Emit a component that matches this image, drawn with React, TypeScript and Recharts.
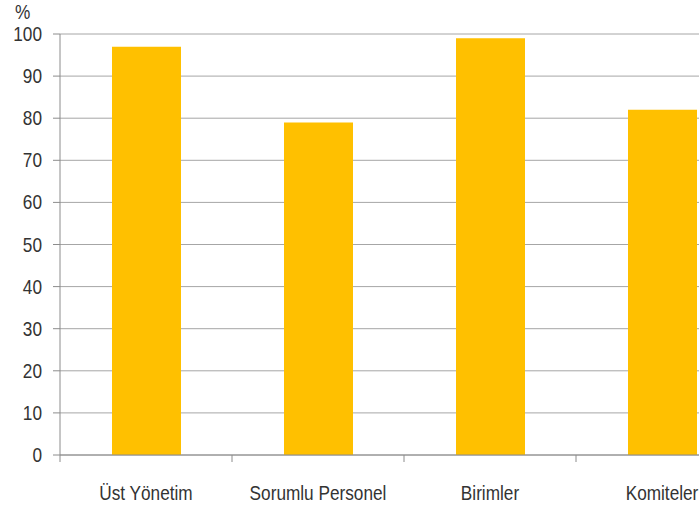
import { BarChart, Bar, XAxis, YAxis, CartesianGrid } from "recharts";

const categories = ["Üst Yönetim", "Sorumlu Personel", "Birimler", "Komiteler"];
const shares = [97, 79, 99, 82];
const yTicks = [0, 10, 20, 30, 40, 50, 60, 70, 80, 90, 100];

const data = categories.map((name, i) => ({ name, value: shares[i] }));

// no narrow face installed, so squeeze the regular one horizontally
const FONT = "'Liberation Sans', Arial, sans-serif";
const SQUEEZE = 0.82;
const FONT_SIZE = 21;
const AXIS_COLOR = "#8c8c8c";
const TEXT_COLOR = "#333333";

// category label plus a short divider tick at the left edge of each band
function CategoryTick(props: any) {
  const { x, y, payload, width, visibleTicksCount } = props;
  const half =
    payload && typeof payload.offset === "number" && payload.offset > 0
      ? payload.offset
      : width / visibleTicksCount / 2;
  return (
    <g>
      <line x1={x - half} x2={x - half} y1={y} y2={y + 7} stroke={AXIS_COLOR} />
      <text
        transform={`translate(${x},${y + 45}) scale(${SQUEEZE},1)`}
        textAnchor="middle"
        fill={TEXT_COLOR}
        fontSize={FONT_SIZE}
        fontFamily={FONT}
      >
        {payload.value}
      </text>
    </g>
  );
}

function ValueTick(props: any) {
  const { x, y, payload } = props;
  return (
    <text
      transform={`translate(${x},${y + 7}) scale(${SQUEEZE},1)`}
      textAnchor="end"
      fill={TEXT_COLOR}
      fontSize={FONT_SIZE}
      fontFamily={FONT}
    >
      {payload.value}
    </text>
  );
}

export default function App() {
  return (
    <div
      style={{
        position: "fixed",
        left: 0,
        top: 0,
        width: 699,
        height: 509,
        overflow: "hidden",
        background: "#fff",
      }}
    >
      <div
        style={{
          position: "absolute",
          left: 15,
          top: 0,
          fontFamily: FONT,
          fontSize: FONT_SIZE,
          lineHeight: "24px",
          color: TEXT_COLOR,
          transform: `scaleX(${SQUEEZE})`,
          transformOrigin: "left top",
        }}
      >
        %
      </div>
      <BarChart
        width={760}
        height={509}
        data={data}
        margin={{ top: 34, right: 12, bottom: 0, left: 0 }}
        barCategoryGap={0}
      >
        <CartesianGrid vertical={false} stroke="#a6a6a6" />
        <XAxis
          dataKey="name"
          height={54}
          axisLine={{ stroke: AXIS_COLOR }}
          tickLine={false}
          tickSize={0}
          tickMargin={0}
          interval={0}
          tick={<CategoryTick />}
        />
        <YAxis
          domain={[0, 100]}
          ticks={yTicks}
          width={60}
          axisLine={{ stroke: AXIS_COLOR }}
          tickLine={{ stroke: AXIS_COLOR }}
          tickSize={7}
          tickMargin={11}
          tick={<ValueTick />}
          interval={0}
        />
        <Bar dataKey="value" fill="#FFC000" barSize={69} isAnimationActive={false} />
      </BarChart>
    </div>
  );
}
